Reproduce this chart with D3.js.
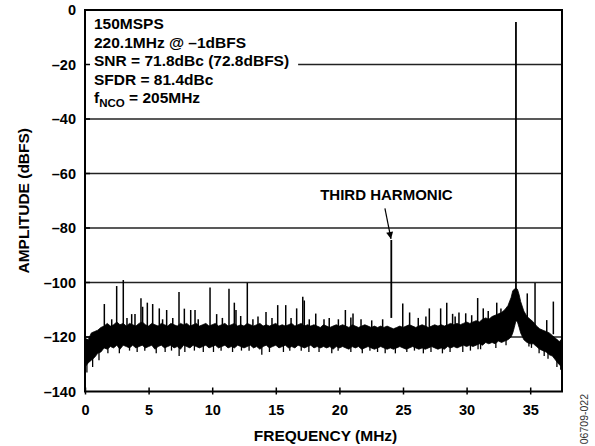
<!DOCTYPE html>
<html>
<head>
<meta charset="utf-8">
<script src="https://cdn.jsdelivr.net/npm/d3@7"></script>
<style>
	body { margin: 0; background: #fff; }
	svg { display: block; font-family: "Liberation Sans", Arial, sans-serif; font-weight: bold; }
</style>
</head>
<body>
<script>
// tick values
let xTicks = [0, 5, 10, 15, 20, 25, 30, 35];
let yTicks = [0, -20, -40, -60, -80, -100, -120, -140];

// noise floor envelope: [MHz, top dBFS, bottom dBFS]
let floorBand = [
	[0.00,-120.5,-131.0],[0.25,-121.0,-129.5],[0.50,-118.5,-128.5],[0.75,-118.0,-127.5],
	[1.00,-117.5,-126.0],[1.25,-116.5,-125.5],[1.50,-116.0,-124.0],[1.75,-115.0,-124.5],
	[2.00,-116.0,-123.5],[2.25,-115.5,-124.0],[2.50,-114.5,-123.0],[2.75,-115.5,-124.5],
	[3.00,-115.0,-123.0],[3.25,-116.0,-123.5],[3.50,-115.0,-124.0],[3.75,-115.5,-123.0],
	[4.00,-116.0,-124.0],[4.25,-115.0,-123.5],[4.50,-114.5,-123.0],[4.75,-115.5,-124.0],
	[5.00,-116.0,-123.5],[5.25,-115.0,-123.0],[5.50,-115.5,-124.5],[5.75,-116.0,-123.5],
	[6.00,-115.0,-123.0],[6.25,-115.5,-124.0],[6.50,-116.0,-123.5],[6.75,-115.0,-123.0],
	[7.00,-115.5,-124.0],[7.25,-116.0,-123.5],[7.50,-115.0,-124.5],[7.75,-115.5,-123.0],
	[8.00,-115.0,-123.5],[8.25,-116.0,-124.0],[8.50,-115.5,-123.0],[8.75,-115.0,-123.5],
	[9.00,-116.0,-124.0],[9.25,-115.5,-123.5],[9.50,-115.0,-123.0],[9.75,-116.0,-124.0],
	[10.00,-115.5,-123.5],[10.25,-115.0,-123.0],[10.50,-116.0,-124.0],[10.75,-115.5,-123.5],
	[11.00,-115.0,-123.0],[11.25,-116.0,-124.0],[11.50,-115.5,-123.5],[11.75,-115.0,-124.0],
	[12.00,-116.0,-123.0],[12.25,-115.5,-123.5],[12.50,-116.0,-124.0],[12.75,-115.0,-123.5],
	[13.00,-115.5,-123.0],[13.25,-116.0,-124.0],[13.50,-115.5,-123.5],[13.75,-115.0,-124.5],
	[14.00,-116.0,-123.5],[14.25,-115.5,-123.0],[14.50,-116.0,-124.0],[14.75,-115.5,-123.5],
	[15.00,-115.0,-123.0],[15.25,-116.0,-124.0],[15.50,-115.5,-123.5],[15.75,-116.0,-123.0],
	[16.00,-115.5,-124.0],[16.25,-115.0,-123.5],[16.50,-116.0,-124.0],[16.75,-115.5,-123.0],
	[17.00,-115.0,-123.5],[17.25,-116.0,-124.0],[17.50,-115.5,-123.5],[17.75,-116.0,-123.0],
	[18.00,-115.5,-124.0],[18.25,-116.0,-123.5],[18.50,-116.5,-124.0],[18.75,-115.5,-123.5],
	[19.00,-116.0,-124.0],[19.25,-116.5,-123.5],[19.50,-116.0,-124.5],[19.75,-115.5,-123.5],
	[20.00,-116.0,-124.0],[20.25,-115.5,-123.5],[20.50,-116.0,-124.0],[20.75,-116.5,-124.5],
	[21.00,-115.5,-123.5],[21.25,-116.0,-124.0],[21.50,-116.5,-123.5],[21.75,-116.0,-124.5],
	[22.00,-115.5,-124.0],[22.25,-116.0,-123.5],[22.50,-116.5,-124.0],[22.75,-116.0,-124.5],
	[23.00,-116.5,-124.0],[23.25,-116.0,-123.5],[23.50,-116.5,-124.0],[23.75,-116.0,-124.5],
	[24.00,-116.5,-124.0],[24.25,-117.0,-124.5],[24.50,-116.5,-124.0],[24.75,-116.0,-123.5],
	[25.00,-116.5,-124.0],[25.25,-116.0,-124.5],[25.50,-115.5,-124.0],[25.75,-116.0,-123.5],
	[26.00,-116.5,-124.0],[26.25,-116.0,-124.5],[26.50,-115.5,-124.0],[26.75,-116.0,-124.5],
	[27.00,-116.5,-124.0],[27.25,-116.0,-123.5],[27.50,-115.5,-124.0],[27.75,-116.0,-124.5],
	[28.00,-115.5,-124.0],[28.25,-116.0,-124.5],[28.50,-115.5,-123.5],[28.75,-115.0,-124.0],
	[29.00,-115.5,-123.5],[29.25,-115.0,-124.0],[29.50,-115.5,-123.5],[29.75,-115.0,-123.0],
	[30.00,-114.5,-123.5],[30.25,-115.0,-123.0],[30.50,-114.5,-123.5],[30.75,-114.0,-123.0],
	[31.00,-114.5,-122.5],[31.25,-113.5,-123.0],[31.50,-113.0,-122.0],[31.75,-113.5,-122.5],
	[32.00,-112.5,-122.0],[32.25,-112.0,-122.5],[32.50,-111.5,-121.5],[32.75,-111.0,-122.0],
	[33.00,-110.0,-121.5],[33.25,-108.5,-121.0],[33.50,-105.5,-120.0],[33.63,-103.0,-118.5],
	[33.75,-102.5,-116.5],[33.88,-102.0,-114.0],[34.00,-102.5,-114.5],[34.13,-104.5,-116.5],
	[34.25,-107.0,-118.5],[34.50,-110.5,-121.0],[34.75,-112.5,-122.0],[35.00,-113.5,-122.5],
	[35.25,-114.5,-122.5],[35.50,-116.0,-123.5],[35.75,-117.0,-124.5],[36.00,-117.5,-125.0],
	[36.25,-118.0,-125.5],[36.50,-118.5,-126.5],[36.75,-119.5,-127.0],[37.00,-120.5,-128.5],
	[37.25,-121.5,-130.0],[37.50,-122.0,-131.0]
];

// downward noise spikes below the floor: [MHz, dBFS]
let floorDips = [
	[0.15,-133],[0.6,-131],[1.1,-128.5],[1.8,-126],[2.7,-126],[3.5,-125],[4.1,-125.5],
	[4.7,-125],[5.6,-126],[6.3,-125.5],[6.8,-125],[7.4,-127],[7.85,-125.5],[8.6,-125],
	[9.3,-125.5],[10.1,-125.5],[10.7,-125],[11.6,-125.5],[12.3,-125],[12.9,-125],
	[13.9,-126.5],[14.5,-125.5],[15.6,-125.5],[16.1,-125],[17.0,-125],[17.6,-125.5],
	[18.4,-125.5],[19.4,-126],[19.9,-125],[20.9,-125.5],[21.8,-126],[22.4,-125],
	[23.0,-125.5],[23.6,-126],[24.4,-126],[25.3,-125.5],[25.9,-125],[26.6,-126],
	[27.2,-125.5],[28.1,-126],[28.7,-125.5],[29.7,-125.5],[30.3,-125],[30.9,-124.5],
	[31.1,-124.5],[32.3,-124],[33.1,-123],[34.9,-123.5],[35.1,-124],[35.7,-126],
	[36.1,-127],[36.4,-128],[37.1,-131],[37.4,-132]
];

// spurs sticking out of the floor: [MHz, dBFS]
let spurs = [
	[1.52,-107.9],[2.49,-101.3],[3.01,-99.1],[3.67,-111.6],[3.93,-111.6],[4.40,-105.8],
	[4.53,-108.9],[4.90,-107.4],[5.32,-107.9],[5.84,-109.5],[6.42,-110.1],[7.39,-103.5],
	[7.81,-109.6],[8.31,-110.1],[8.65,-110.1],[9.83,-101.8],[10.35,-111.6],[11.32,-102.3],
	[11.74,-107.4],[11.87,-110.1],[12.24,-112.3],[12.76,-100.1],[14.23,-110.8],[15.15,-108.3],
	[15.78,-108.3],[16.64,-109.5],[17.12,-105.2],[17.24,-106.6],[17.63,-113.5],[18.14,-111.4],
	[18.79,-113.5],[19.92,-113.5],[20.47,-110.1],[21.07,-111.4],[21.70,-113.5],[22.54,-113.9],
	[24.98,-107.7],[25.52,-111.0],[27.07,-109.5],[27.96,-109.5],[28.44,-107.4],[28.90,-111.5],
	[29.40,-111.0],[29.93,-111.3],[30.87,-105.7],[31.31,-109.5],[32.37,-107.4],[34.77,-104.0],
	[35.38,-100.2],[36.30,-113.8],[36.82,-107.0],
	[2.1,-113.5],[3.3,-113],[6.1,-113.5],[6.9,-113],[8.9,-113.5],[10.8,-113],[13.2,-113.5],
	[13.6,-112.5],[14.7,-113],[16.2,-113],[19.2,-113],[20.9,-112.8],[23.4,-113.5],[26.2,-113],
	[26.8,-112.5],[29.1,-112.5],[30.4,-112],[31.7,-110.5],[32.7,-109.5]
];

// fundamental and third harmonic
let fundamental = [33.88, -4.4];
let harmonic = [24.08, -84.4];

// texts
let noteLines = ["150MSPS", "220.1MHz @ –1dBFS", "SNR = 71.8dBc (72.8dBFS)", "SFDR = 81.4dBc"];
let ncoLine = {base: "f", sub: "NCO", rest: " = 205MHz"};
let harmonicLabel = {text: "THIRD HARMONIC", at: [23.70, -69.7], from: [23.58, -72.8]};
let xTitle = "FREQUENCY (MHz)";
let yTitle = "AMPLITUDE (dBFS)";
let figId = "06709-022";

// dimensions
let W = 595, H = 446;
let margin = {top: 10, right: 33, bottom: 54.5, left: 85};
let width = W - margin.left - margin.right,
	height = H - margin.top - margin.bottom;

let xScale = d3.scaleLinear().domain([0, 37.5]).range([0, width]),
	yScale = d3.scaleLinear().domain([-140, 0]).range([height, 0]);

let svg = d3.select("body").append("svg")
	.attr("width", W)
	.attr("height", H);

let artboard = svg.append("g")
	.attr("transform", "translate(" + margin.left + "," + margin.top + ")");

let gridG = artboard.append("g");

// noise floor
let band = d3.area()
	.x(function(d) { return xScale(d[0]); })
	.y0(function(d) { return yScale(d[2]); })
	.y1(function(d) { return yScale(d[1]); });

artboard.append("path").datum(floorBand)
	.attr("d", band)
	.style("fill", "#000")
	.style("stroke", "#000")
	.style("stroke-width", 0.8);

artboard.append("g").selectAll("line").data(floorDips).join("line")
	.attr("x1", function(d) { return xScale(d[0]); })
	.attr("x2", function(d) { return xScale(d[0]); })
	.attr("y1", yScale(-121))
	.attr("y2", function(d) { return yScale(d[1]); })
	.style("stroke", "#000")
	.style("stroke-width", 1.3);

artboard.append("g").selectAll("line").data(spurs).join("line")
	.attr("x1", function(d) { return xScale(d[0]); })
	.attr("x2", function(d) { return xScale(d[0]); })
	.attr("y1", yScale(-119))
	.attr("y2", function(d) { return yScale(d[1]); })
	.style("stroke", "#000")
	.style("stroke-width", 1.5);

artboard.append("g").selectAll("line").data([fundamental, harmonic]).join("line")
	.attr("x1", function(d) { return xScale(d[0]); })
	.attr("x2", function(d) { return xScale(d[0]); })
	.attr("y1", yScale(-113))
	.attr("y2", function(d) { return yScale(d[1]); })
	.style("stroke", "#000")
	.style("stroke-width", 1.8);

// frame
artboard.append("rect")
	.attr("width", width)
	.attr("height", height)
	.style("fill", "none")
	.style("stroke", "#000")
	.style("stroke-width", 2);

// axes
let xAxis = d3.axisBottom(xScale).tickValues(xTicks).tickSizeInner(3).tickSizeOuter(0).tickPadding(10);
let xAxisEl = artboard.append("g")
	.attr("transform", "translate(0," + height + ")")
	.call(xAxis);
xAxisEl.select(".domain").remove();
xAxisEl.selectAll(".tick line").attr("y1", -4).style("stroke-width", 1.5);
xAxisEl.selectAll(".tick text").style("font-size", "14.5px");
xAxisEl.attr("font-family", null).attr("font-size", null);

let yAxis = d3.axisLeft(yScale).tickValues(yTicks).tickSizeInner(0).tickSizeOuter(0).tickPadding(9)
	.tickFormat(function(d) { return d < 0 ? "–" + Math.abs(d) : d; });
let yAxisEl = artboard.append("g").call(yAxis);
yAxisEl.select(".domain").remove();
yAxisEl.attr("font-family", null).attr("font-size", null);
yAxisEl.selectAll(".tick text").style("font-size", "14.5px");

// small inward ticks on the left axis
artboard.append("g").selectAll("line").data(yTicks.slice(1, -1)).join("line")
	.attr("x1", 0).attr("x2", 5)
	.attr("y1", function(d) { return yScale(d); })
	.attr("y2", function(d) { return yScale(d); })
	.style("stroke", "#000")
	.style("stroke-width", 1.5);

// annotation block
let note = artboard.append("text")
	.attr("x", 9)
	.style("font-size", "15.5px");
noteLines.forEach(function(s, i) {
	note.append("tspan").attr("x", 9).attr("y", 19.3 + i * 18.5).text(s);
});
let ncoT = note.append("tspan").attr("x", 9).attr("y", 19.3 + 4 * 18.5);
ncoT.text(ncoLine.base);
note.append("tspan").attr("dy", 3.5).style("font-size", "11.5px").text(ncoLine.sub);
note.append("tspan").attr("dy", -3.5).text(ncoLine.rest);

let snrRight = 9 + note.selectAll("tspan").nodes()[2].getComputedTextLength();

// gridlines (the -20 line stops short of the annotation)
gridG.selectAll("line").data(yTicks.slice(1, -1)).join("line")
	.attr("x1", function(d) { return d === -20 ? snrRight + 9 : 0; })
	.attr("x2", width)
	.attr("y1", function(d) { return yScale(d); })
	.attr("y2", function(d) { return yScale(d); })
	.style("stroke", "#222")
	.style("stroke-width", 1.4);

// third harmonic label and arrow
svg.append("defs").append("marker")
	.attr("id", "head")
	.attr("viewBox", "0 0 10 10")
	.attr("refX", 10).attr("refY", 5)
	.attr("markerWidth", 9).attr("markerHeight", 7)
	.attr("markerUnits", "userSpaceOnUse")
	.attr("orient", "auto")
	.append("path").attr("d", "M0,0L10,5L0,10z").style("fill", "#000");

artboard.append("line")
	.attr("x1", xScale(harmonicLabel.from[0]))
	.attr("y1", yScale(harmonicLabel.from[1]))
	.attr("x2", xScale(harmonic[0]) - 0.3)
	.attr("y2", yScale(harmonic[1]) - 1)
	.attr("marker-end", "url(#head)")
	.style("stroke", "#000")
	.style("stroke-width", 1.2);

artboard.append("text")
	.attr("x", xScale(harmonicLabel.at[0]))
	.attr("y", yScale(harmonicLabel.at[1]))
	.attr("text-anchor", "middle")
	.style("font-size", "15px")
	.text(harmonicLabel.text);

// axis titles
svg.append("text")
	.attr("x", margin.left + width / 2 + 2)
	.attr("y", 441)
	.attr("text-anchor", "middle")
	.style("font-size", "15.5px")
	.text(xTitle);

svg.append("text")
	.attr("transform", "translate(28.5," + (margin.top + height / 2) + ") rotate(-90)")
	.attr("text-anchor", "middle")
	.style("font-size", "15.5px")
	.text(yTitle);

svg.append("text")
	.attr("transform", "translate(588,394) rotate(-90)")
	.attr("text-anchor", "end")
	.style("font-size", "10.5px")
	.style("font-weight", "normal")
	.style("fill", "#333")
	.text(figId);
</script>
</body>
</html>
